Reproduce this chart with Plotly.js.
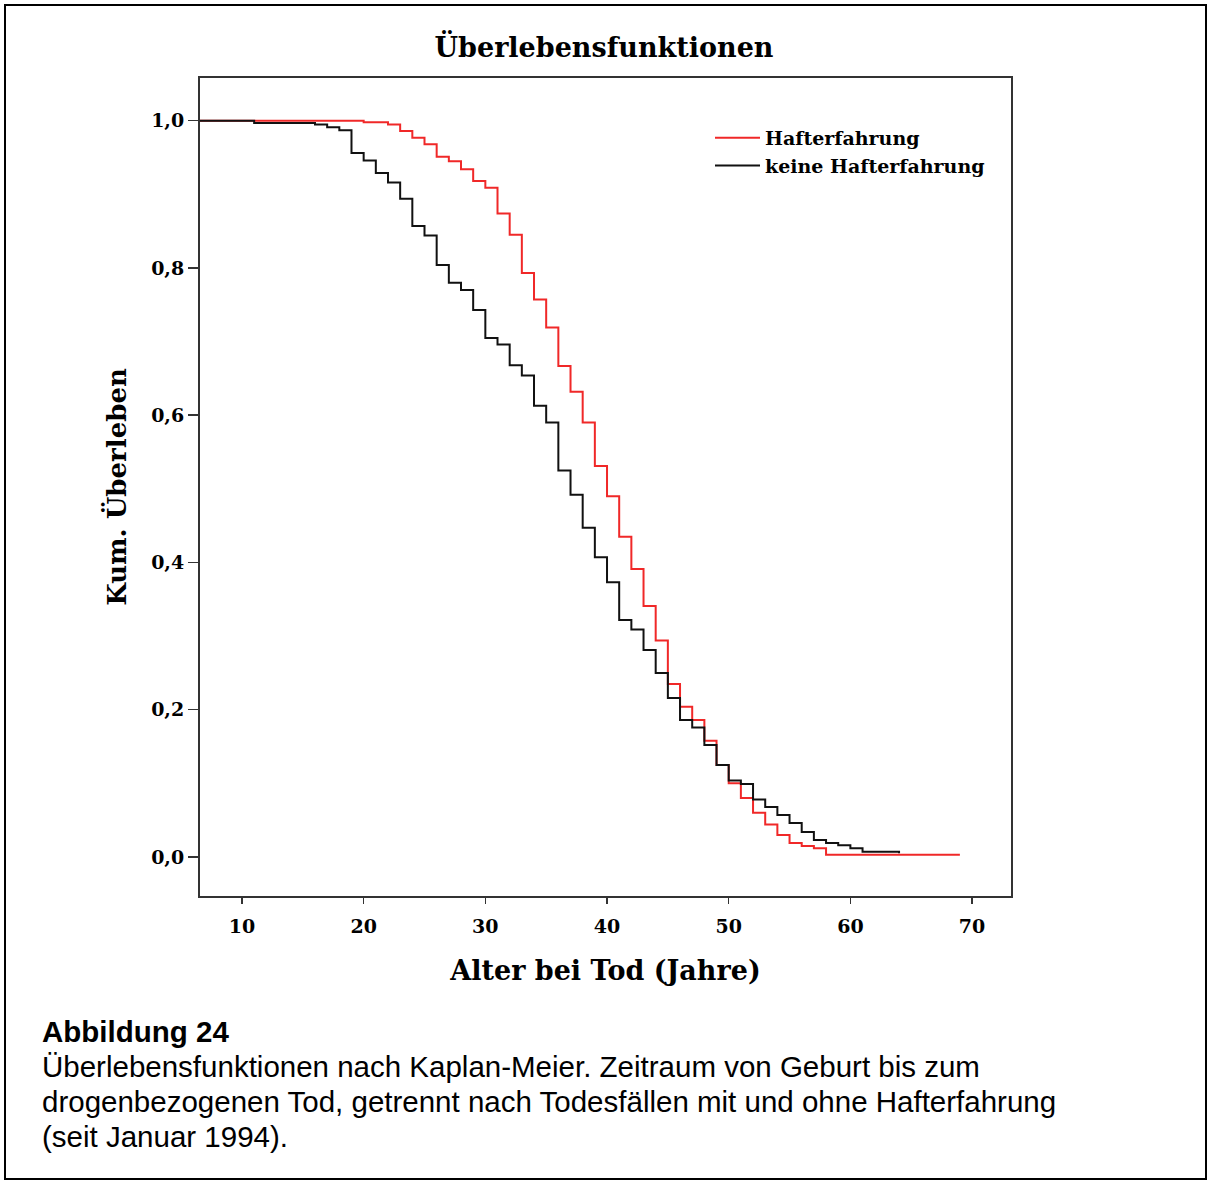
<!DOCTYPE html>
<html>
<head>
<meta charset="utf-8">
<script src="https://cdn.plot.ly/plotly-3.0.1.min.js"></script>
<style>
  html, body { margin: 0; padding: 0; background: #fff; }
  #wrap { position: relative; width: 1208px; height: 1182px; }
  #chart { position: absolute; left: 0; top: 0; width: 1208px; height: 1182px; }
  #frame { position: absolute; left: 4px; top: 4px; width: 1199px; height: 1172px; border: 2px solid #000; pointer-events: none; }
</style>
</head>
<body>
<div id="wrap"><div id="chart"></div><div id="frame"></div></div>
<script>
// Kaplan-Meier step data (age at step, survival after step)
const agesHaft = [6.5, 20, 22, 23, 24, 25, 26, 27, 28, 29, 30, 31, 32, 33, 34, 35, 36, 37, 38, 39, 40, 41, 42, 43, 44, 45, 46, 47, 48, 49, 50, 51, 52, 53, 54, 55, 56, 57, 58, 69];
const survHaft = [1.000, 0.998, 0.995, 0.986, 0.977, 0.968, 0.951, 0.945, 0.934, 0.918, 0.909, 0.874, 0.845, 0.793, 0.757, 0.719, 0.667, 0.632, 0.590, 0.531, 0.490, 0.435, 0.391, 0.341, 0.294, 0.235, 0.204, 0.186, 0.158, 0.125, 0.100, 0.080, 0.060, 0.044, 0.030, 0.019, 0.015, 0.012, 0.003, 0.003];

const agesKeine = [6.5, 11, 16, 17, 18, 19, 20, 21, 22, 23, 24, 25, 26, 27, 28, 29, 30, 31, 32, 33, 34, 35, 36, 37, 38, 39, 40, 41, 42, 43, 44, 45, 46, 47, 48, 49, 50, 51, 52, 53, 54, 55, 56, 57, 58, 59, 60, 61, 64];
const survKeine = [1.000, 0.997, 0.995, 0.991, 0.987, 0.956, 0.946, 0.929, 0.916, 0.894, 0.857, 0.844, 0.804, 0.780, 0.770, 0.743, 0.705, 0.696, 0.668, 0.654, 0.613, 0.590, 0.525, 0.492, 0.447, 0.407, 0.373, 0.322, 0.309, 0.281, 0.250, 0.216, 0.186, 0.176, 0.152, 0.125, 0.104, 0.099, 0.078, 0.068, 0.057, 0.046, 0.034, 0.023, 0.019, 0.016, 0.012, 0.007, 0.005];

const seriesNames = ["Hafterfahrung", "keine Hafterfahrung"];
const xTicks = [10, 20, 30, 40, 50, 60, 70];
const yTicks = [0, 0.2, 0.4, 0.6, 0.8, 1.0];

const chartTitle = "Überlebensfunktionen";
const xTitle = "Alter bei Tod (Jahre)";
const yTitle = "Kum. Überleben";
const captionHead = "Abbildung 24";
const captionLines = [
  "Überlebensfunktionen nach Kaplan-Meier. Zeitraum von Geburt bis zum",
  "drogenbezogenen Tod, getrennt nach Todesfällen mit und ohne Hafterfahrung",
  "(seit Januar 1994)."
];

const serif = "DejaVu Serif, serif";
const sans = "Liberation Sans, Arial, sans-serif";

const traces = [
  { x: agesHaft, y: survHaft, name: seriesNames[0], type: "scatter", mode: "lines",
    line: { shape: "hv", color: "#f02828", width: 2 } },
  { x: agesKeine, y: survKeine, name: seriesNames[1], type: "scatter", mode: "lines",
    line: { shape: "hv", color: "#111", width: 2 } }
];

// layout geometry (pixels of the 1208x1182 page)
const L = 200, R = 1011, T = 78, B = 896;
const W = 1208, H = 1182;
const px = v => (v - L) / (R - L);
const py = v => (B - v) / (B - T);

const annotations = [
  { text: "<b>" + captionHead + "</b>", xref: "paper", yref: "paper", x: px(40), y: py(1031),
    xanchor: "left", yanchor: "middle", showarrow: false, font: { family: sans, size: 29.5, color: "#000" } }
];
captionLines.forEach((t, i) => {
  annotations.push({ text: t, xref: "paper", yref: "paper", x: px(40), y: py(1066 + i * 35),
    xanchor: "left", yanchor: "middle", showarrow: false, font: { family: sans, size: 29.5, color: "#000" } });
});

const layout = {
  width: W, height: H,
  margin: { l: L, r: W - R, t: T, b: H - B, pad: 0 },
  paper_bgcolor: "#fff", plot_bgcolor: "#fff",
  separators: ",.",
  showlegend: true,
  title: { text: "<b>" + chartTitle + "</b>", x: 604 / W, xanchor: "center", y: 1 - 48 / H, yanchor: "middle",
    font: { family: serif, size: 27, color: "#000" } },
  xaxis: {
    range: [6.55, 73.2], tickvals: xTicks, ticktext: xTicks.map(String),
    showgrid: false, zeroline: false, showline: true, mirror: true, linecolor: "#333", linewidth: 2,
    ticks: "outside", ticklen: 6, tickcolor: "#333", tickwidth: 1.5, ticklabelstandoff: 6,
    tickfont: { family: serif, size: 19, color: "#000", weight: "bold" },
    title: { text: "<b>" + xTitle + "</b>", font: { family: serif, size: 27, color: "#000" }, standoff: 25 }
  },
  yaxis: {
    range: [-0.053, 1.058], tickvals: yTicks, tickformat: ".1f",
    showgrid: false, zeroline: false, showline: true, mirror: true, linecolor: "#333", linewidth: 2,
    ticks: "outside", ticklen: 10, tickcolor: "#333", tickwidth: 1.5,
    tickfont: { family: serif, size: 19, color: "#000", weight: "bold" },
    title: { text: "<b>" + yTitle + "</b>", font: { family: serif, size: 26, color: "#000" }, standoff: 17 }
  },
  legend: {
    x: px(710), y: py(119), xanchor: "left", yanchor: "top",
    bgcolor: "rgba(0,0,0,0)", borderwidth: 0, tracegroupgap: 0,
    font: { family: serif, size: 19, color: "#000", weight: "bold" },
    itemwidth: 45
  },
  annotations: annotations
};

Plotly.newPlot("chart", traces, layout, { displayModeBar: false, staticPlot: true });
</script>
</body>
</html>
